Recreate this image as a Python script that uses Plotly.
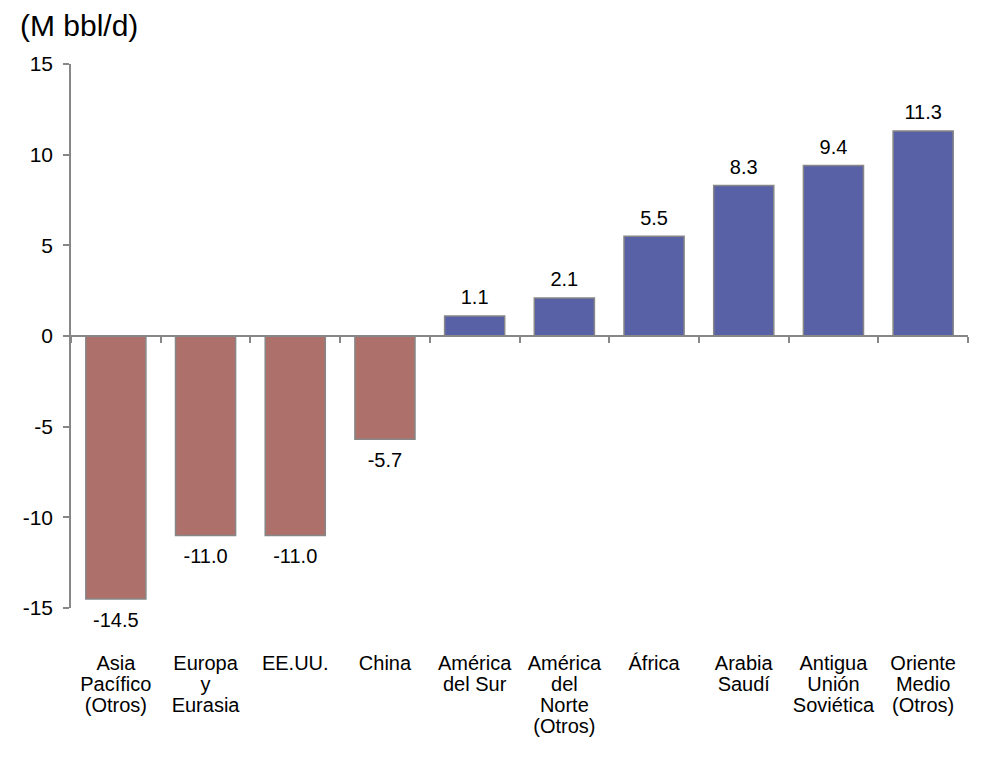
import plotly.graph_objects as go

categories = ["Asia<br>Pacífico<br>(Otros)", "Europa<br>y<br>Eurasia", "EE.UU.", "China",
              "América<br>del Sur", "América<br>del<br>Norte<br>(Otros)", "África",
              "Arabia<br>Saudí", "Antigua<br>Unión<br>Soviética", "Oriente<br>Medio<br>(Otros)"]
values = [-14.5, -11.0, -11.0, -5.7, 1.1, 2.1, 5.5, 8.3, 9.4, 11.3]
y_ticks = [-15, -10, -5, 0, 5, 10, 15]
y_tick_labels = ["-15", "-10", "-5", "0", "5", "10", "15"]
unit_label = "(M bbl/d)"

NEG = "#AE706A"
POS = "#5860A6"
AXIS = "#878787"
FONT = "Liberation Sans, Arial, sans-serif"
FS = 20
LINE_STEP = 21

colors = [NEG if v < 0 else POS for v in values]
texts = [f"{v:.1f}" for v in values]
n = len(categories)
positions = list(range(n))
boundaries = [i - 0.5 for i in range(n + 1)]
label_lines = [c.split("<br>") for c in categories]
max_lines = max(len(l) for l in label_lines)

fig = go.Figure()
fig.add_trace(go.Bar(
    x=positions, y=values,
    marker=dict(color=colors, line=dict(color=AXIS, width=1.5)),
    hoverinfo="skip",
))
# value labels (outside the bar ends)
fig.add_trace(go.Scatter(
    x=positions, y=values, mode="markers+text", text=texts,
    textposition=["bottom center" if v < 0 else "top center" for v in values],
    marker=dict(opacity=0, size=[19 if v < 0 else 9 for v in values]),
    textfont=dict(size=FS, color="black", family=FONT),
    cliponaxis=False, hoverinfo="skip", showlegend=False,
))


def helper(axis_name):
    # invisible trace so that the overlay axis gets drawn
    fig.add_trace(go.Scatter(
        x=positions, y=[0] * n, xaxis=axis_name, yaxis="y", mode="markers",
        marker=dict(opacity=0, size=1), hoverinfo="skip", showlegend=False,
    ))


layout_axes = {}
# zero line axis with ticks at category boundaries
helper("x2")
layout_axes["xaxis2"] = dict(
    overlaying="x", anchor="free", position=0.5, range=[-0.5, n - 0.5],
    tickmode="array", tickvals=boundaries, showticklabels=False,
    showline=True, linecolor=AXIS, linewidth=1.5,
    ticks="outside", ticklen=6, tickwidth=1.5, tickcolor=AXIS,
    showgrid=False, zeroline=False,
)
# one axis per label line (tight line spacing as in the original)
for k in range(max_lines):
    helper(f"x{k + 3}")
    layout_axes[f"xaxis{k + 3}"] = dict(
        overlaying="x", anchor="y", side="bottom", range=[-0.5, n - 0.5],
        tickmode="array", tickvals=positions,
        ticktext=[l[k] if k < len(l) else "" for l in label_lines],
        showline=False, ticks="", showgrid=False, zeroline=False,
        ticklabelstandoff=41 + LINE_STEP * k,
        tickfont=dict(size=FS, color="black", family=FONT),
    )

fig.update_layout(
    width=982, height=765,
    margin=dict(l=71, r=14, t=64, b=157),
    plot_bgcolor="white", paper_bgcolor="white",
    bargap=0.33,
    showlegend=False,
    font=dict(family=FONT, size=FS, color="black"),
    xaxis=dict(
        range=[-0.5, n - 0.5], showline=False, ticks="", showticklabels=False,
        showgrid=False, zeroline=False,
    ),
    yaxis=dict(
        range=[-15, 15], tickvals=y_ticks, ticktext=y_tick_labels,
        showline=True, linecolor=AXIS, linewidth=1.5,
        ticks="outside", ticklen=6, tickwidth=1.5, tickcolor=AXIS,
        showgrid=False, zeroline=False, ticklabelstandoff=6,
        tickfont=dict(size=21, color="black", family=FONT),
    ),
    annotations=[dict(
        text=unit_label, xref="paper", yref="paper", x=-0.059, y=1.0,
        xanchor="left", yanchor="middle", yshift=39, showarrow=False,
        font=dict(size=30, color="black", family=FONT),
    )],
    **layout_axes,
)

fig.write_html("out.html", config={"displayModeBar": False},
               post_script="document.body.style.margin='0';")
